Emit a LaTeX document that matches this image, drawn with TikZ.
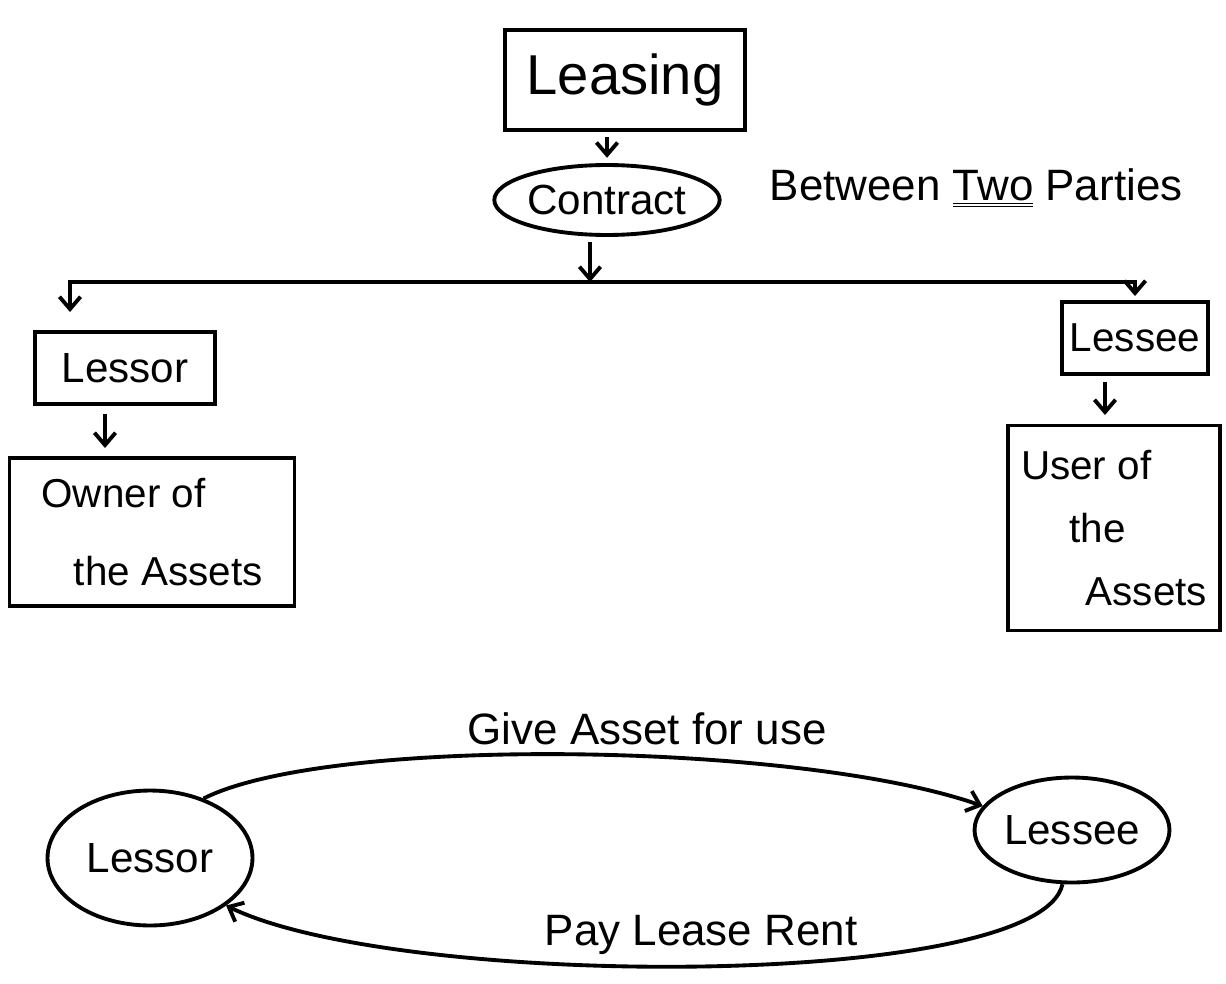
\documentclass[tikz,border=0pt]{standalone}
\usepackage{fontspec}
\setmainfont{Liberation Sans}
\usetikzlibrary{shapes.geometric,arrows.meta,calc}

\begin{document}
\begin{tikzpicture}[x=0.02cm,y=-0.02cm,line width=2.2pt,
  box/.style={draw,rectangle,inner sep=0pt},
  oval/.style={draw,ellipse,inner sep=0pt},
  arr/.style={-{Straight Barb[length=7pt,width=12pt]}},
  big/.style={font=\fontsize{32}{38}\selectfont},
  mid/.style={font=\fontsize{24}{30}\selectfont},
  lbl/.style={font=\fontsize{25}{30}\selectfont}]
\useasboundingbox[fill=white] (0,0) rectangle (1226,983);

% --- top: leasing as a contract between two parties
\node[box,big,minimum width=4.8cm,minimum height=2.0cm] (leasing) at (625,80) {Leasing};
\node[oval,mid,minimum width=3.4cm,minimum height=1.4cm] (contract) at (607,200) {Contract};
\node[lbl,anchor=west] (between) at (762,188) {Between \underline{\underline{Two}} Parties};
\draw[arr,shorten <=3pt,shorten >=3pt] (leasing.south -| contract) -- (contract.north);

% split towards the two parties
\coordinate (split) at (590,282);
\coordinate (ltop) at (70,312);
\coordinate (rtop) at (1135,296);
\draw[arr,shorten <=3pt] (contract.south -| split) -- (split);
\draw[arr] (split) -| (ltop);
\draw[arr] (split) -| (rtop);

% lessor column
\node[box,mid,minimum width=3.6cm,minimum height=1.44cm] (lessorA) at (125,368) {Lessor};
\node[box,minimum width=5.7cm,minimum height=2.96cm,align=left,
      font=\fontsize{23}{44}\selectfont] (owner) at (152,532)
      {Owner of\\\hspace{0.8em}the Assets};
\coordinate (la) at (105,414);
\coordinate (lb) at (105,448);
\draw[arr] (la) -- (lb);

% lessee column
\node[box,minimum width=2.92cm,minimum height=1.44cm,
      font=\fontsize{23}{28}\selectfont] (lesseeA) at (1135,338) {Lessee};
\node[box,minimum width=4.24cm,minimum height=4.1cm,align=left,
      font=\fontsize{23}{36}\selectfont] (user) at (1114,528)
      {User of\\\hspace{1.2em}the\\\hspace{1.6em}Assets};
\coordinate (ra) at (1105,382);
\coordinate (rb) at (1105,415);
\draw[arr] (ra) -- (rb);

% --- bottom: exchange between lessor and lessee
\node[oval,mid,minimum width=4.1cm,minimum height=2.7cm] (lessorB) at (150,858) {Lessor};
\node[oval,mid,minimum width=3.9cm,minimum height=2.1cm] (lesseeB) at (1072,830) {Lessee};
\draw[arr] (lessorB.48) .. controls (330,735) and (800,742) ..
  node[pos=0.58,above=2pt,lbl] (give) {Give Asset for use} (lesseeB.165);
\draw[arr] (lesseeB.-100) .. controls (1040,990) and (400,990) ..
  node[pos=0.5,above=2pt,lbl] (pay) {Pay Lease Rent} (lessorB.-32);
\end{tikzpicture}
\end{document}
